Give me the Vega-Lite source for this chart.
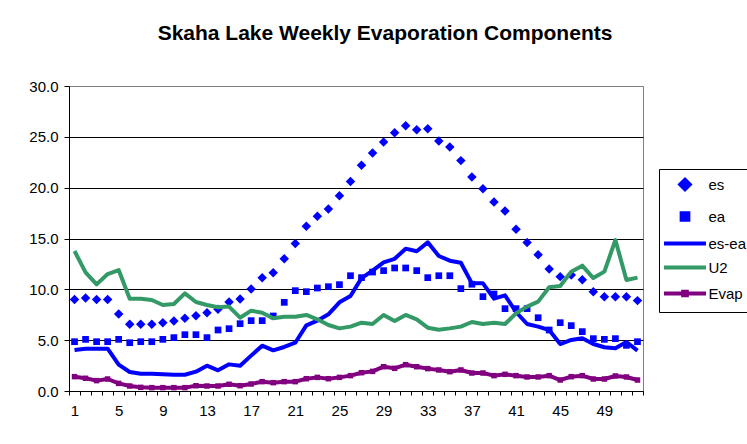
{
  "$schema": "https://vega.github.io/schema/vega-lite/v6.json",
  "autosize": {"type": "none"},
  "padding": {"left": 69, "top": 86, "right": 104, "bottom": 53},
  "width": 574,
  "height": 305,
  "background": "white",
  "title": {
    "text": "Skaha Lake Weekly Evaporation Components",
    "anchor": "middle",
    "frame": "group",
    "dx": 29,
    "offset": 35,
    "font": "Liberation Sans",
    "fontSize": 21,
    "fontWeight": "bold",
    "color": "black"
  },
  "config": {
    "view": {"stroke": "#808080", "strokeWidth": 1},
    "axis": {
      "labelFont": "Liberation Sans",
      "labelFontSize": 15,
      "labelColor": "black",
      "domainColor": "black",
      "tickColor": "black",
      "title": null
    }
  },
  "data": {
    "values": [
      {"week": 1, "es": 9.0, "ea": 4.85, "es-ea": 4.03, "U2": 13.77, "Evap": 1.41},
      {"week": 2, "es": 9.15, "ea": 5.08, "es-ea": 4.16, "U2": 11.67, "Evap": 1.25},
      {"week": 3, "es": 9.0, "ea": 4.85, "es-ea": 4.16, "U2": 10.49, "Evap": 1.02},
      {"week": 4, "es": 9.0, "ea": 4.85, "es-ea": 4.16, "U2": 11.5, "Evap": 1.18},
      {"week": 5, "es": 7.57, "ea": 5.08, "es-ea": 2.59, "U2": 11.9, "Evap": 0.75},
      {"week": 6, "es": 6.56, "ea": 4.75, "es-ea": 1.87, "U2": 9.08, "Evap": 0.49},
      {"week": 7, "es": 6.56, "ea": 4.85, "es-ea": 1.7, "U2": 9.08, "Evap": 0.36},
      {"week": 8, "es": 6.56, "ea": 4.85, "es-ea": 1.7, "U2": 8.95, "Evap": 0.33},
      {"week": 9, "es": 6.72, "ea": 5.08, "es-ea": 1.64, "U2": 8.46, "Evap": 0.33},
      {"week": 10, "es": 6.89, "ea": 5.25, "es-ea": 1.6, "U2": 8.56, "Evap": 0.33},
      {"week": 11, "es": 7.15, "ea": 5.54, "es-ea": 1.6, "U2": 9.6, "Evap": 0.33},
      {"week": 12, "es": 7.41, "ea": 5.54, "es-ea": 1.9, "U2": 8.75, "Evap": 0.52},
      {"week": 13, "es": 7.7, "ea": 5.25, "es-ea": 2.49, "U2": 8.46, "Evap": 0.49},
      {"week": 14, "es": 8.03, "ea": 6.0, "es-ea": 2.03, "U2": 8.23, "Evap": 0.49},
      {"week": 15, "es": 8.75, "ea": 6.13, "es-ea": 2.62, "U2": 8.3, "Evap": 0.66},
      {"week": 16, "es": 9.05, "ea": 6.62, "es-ea": 2.49, "U2": 7.21, "Evap": 0.52},
      {"week": 17, "es": 10.03, "ea": 6.92, "es-ea": 3.48, "U2": 7.9, "Evap": 0.69},
      {"week": 18, "es": 11.15, "ea": 6.92, "es-ea": 4.46, "U2": 7.7, "Evap": 0.92},
      {"week": 19, "es": 11.64, "ea": 7.38, "es-ea": 4.0, "U2": 7.15, "Evap": 0.82},
      {"week": 20, "es": 13.0, "ea": 8.72, "es-ea": 4.33, "U2": 7.31, "Evap": 0.92},
      {"week": 21, "es": 14.5, "ea": 9.87, "es-ea": 4.75, "U2": 7.31, "Evap": 0.92},
      {"week": 22, "es": 16.2, "ea": 9.77, "es-ea": 6.46, "U2": 7.48, "Evap": 1.21},
      {"week": 23, "es": 17.2, "ea": 10.13, "es-ea": 6.92, "U2": 7.05, "Evap": 1.34},
      {"week": 24, "es": 17.9, "ea": 10.26, "es-ea": 7.54, "U2": 6.49, "Evap": 1.21},
      {"week": 25, "es": 19.2, "ea": 10.46, "es-ea": 8.72, "U2": 6.16, "Evap": 1.34},
      {"week": 26, "es": 20.6, "ea": 11.34, "es-ea": 9.34, "U2": 6.33, "Evap": 1.51},
      {"week": 27, "es": 22.2, "ea": 11.15, "es-ea": 11.1, "U2": 6.72, "Evap": 1.8},
      {"week": 28, "es": 23.4, "ea": 11.7, "es-ea": 11.84, "U2": 6.59, "Evap": 1.93},
      {"week": 29, "es": 24.5, "ea": 11.84, "es-ea": 12.66, "U2": 7.48, "Evap": 2.39},
      {"week": 30, "es": 25.4, "ea": 12.1, "es-ea": 13.0, "U2": 6.89, "Evap": 2.23},
      {"week": 31, "es": 26.1, "ea": 12.1, "es-ea": 14.0, "U2": 7.48, "Evap": 2.59},
      {"week": 32, "es": 25.7, "ea": 11.84, "es-ea": 13.74, "U2": 7.05, "Evap": 2.39},
      {"week": 33, "es": 25.8, "ea": 11.15, "es-ea": 14.62, "U2": 6.23, "Evap": 2.2},
      {"week": 34, "es": 24.6, "ea": 11.34, "es-ea": 13.28, "U2": 6.03, "Evap": 2.07},
      {"week": 35, "es": 24.0, "ea": 11.34, "es-ea": 12.82, "U2": 6.16, "Evap": 1.9},
      {"week": 36, "es": 22.66, "ea": 10.07, "es-ea": 12.62, "U2": 6.33, "Evap": 2.07},
      {"week": 37, "es": 21.05, "ea": 10.5, "es-ea": 10.59, "U2": 6.79, "Evap": 1.77},
      {"week": 38, "es": 19.9, "ea": 9.28, "es-ea": 10.59, "U2": 6.59, "Evap": 1.77},
      {"week": 39, "es": 18.6, "ea": 9.54, "es-ea": 9.08, "U2": 6.72, "Evap": 1.51},
      {"week": 40, "es": 17.7, "ea": 8.1, "es-ea": 9.41, "U2": 6.59, "Evap": 1.64},
      {"week": 41, "es": 15.9, "ea": 8.1, "es-ea": 7.77, "U2": 7.64, "Evap": 1.51},
      {"week": 42, "es": 14.6, "ea": 8.1, "es-ea": 6.59, "U2": 8.3, "Evap": 1.38},
      {"week": 43, "es": 13.4, "ea": 7.21, "es-ea": 6.33, "U2": 8.79, "Evap": 1.38},
      {"week": 44, "es": 12.0, "ea": 6.0, "es-ea": 6.0, "U2": 10.2, "Evap": 1.51},
      {"week": 45, "es": 11.25, "ea": 6.72, "es-ea": 4.62, "U2": 10.33, "Evap": 1.08},
      {"week": 46, "es": 11.4, "ea": 6.43, "es-ea": 5.02, "U2": 11.74, "Evap": 1.41},
      {"week": 47, "es": 10.95, "ea": 5.84, "es-ea": 5.18, "U2": 12.33, "Evap": 1.51},
      {"week": 48, "es": 9.77, "ea": 5.15, "es-ea": 4.62, "U2": 11.11, "Evap": 1.18},
      {"week": 49, "es": 9.28, "ea": 5.08, "es-ea": 4.3, "U2": 11.74, "Evap": 1.18},
      {"week": 50, "es": 9.28, "ea": 5.15, "es-ea": 4.2, "U2": 14.85, "Evap": 1.48},
      {"week": 51, "es": 9.28, "ea": 4.49, "es-ea": 4.82, "U2": 10.92, "Evap": 1.38},
      {"week": 52, "es": 8.89, "ea": 4.85, "es-ea": 3.97, "U2": 11.15, "Evap": 1.08}
    ]
  },
  "transform": [
    {"fold": ["es", "ea", "es-ea", "U2", "Evap"], "as": ["series", "value"]}
  ],
  "encoding": {
    "x": {
      "field": "week",
      "type": "ordinal",
      "bandPosition": 0.5,
      "scale": {"type": "band", "paddingInner": 0, "paddingOuter": 0},
      "axis": {
        "labelAngle": 0,
        "tickBand": "extent",
        "tickSize": 4,
        "labelPadding": 8,
        "labelOverlap": false,
        "labelExpr": "(datum.value - 1) % 4 === 0 ? datum.label : ''",
        "grid": false
      }
    },
    "y": {
      "field": "value",
      "type": "quantitative",
      "scale": {"domain": [0, 30], "nice": false, "zero": true},
      "axis": {
        "values": [0, 5, 10, 15, 20, 25, 30],
        "format": ".1f",
        "tickSize": 5,
        "labelPadding": 6,
        "grid": true,
        "gridColor": {"condition": {"test": "datum.value === 30", "value": "#808080"}, "value": "black"},
        "gridOpacity": 1,
        "gridWidth": 1
      }
    }
  },
  "layer": [
    {
      "transform": [{"filter": {"field": "series", "oneOf": ["es", "ea"]}}],
      "mark": {"type": "point", "filled": true, "opacity": 1},
      "encoding": {
        "color": {
          "field": "series",
          "type": "nominal",
          "scale": {
            "domain": ["es", "ea", "es-ea", "U2", "Evap"],
            "range": ["#0000FF", "#0000FF", "#0000FF", "#339966", "#800080"]
          },
          "legend": {
            "orient": "none",
            "legendX": 590,
            "legendY": 83,
            "title": null,
            "strokeColor": "black",
            "fillColor": "white",
            "padding": 8,
            "labelFont": "Liberation Sans",
            "labelFontSize": 15,
            "labelColor": "black",
            "symbolOffset": 10.5,
            "labelOffset": 16,
            "rowPadding": 7,
            "symbolStrokeWidth": 4,
            "symbolOpacity": 1,
            "encode": {
              "symbols": {
                "update": {
                  "stroke": {"signal": "indexof(['es','ea'], datum.value) >= 0 ? 'transparent' : scale('color', datum.value)"},
                  "size": {"signal": "datum.value === 'es' ? 70 : datum.value === 'ea' ? 40 : 110"}
                }
              }
            }
          }
        },
        "shape": {
          "field": "series",
          "type": "nominal",
          "scale": {
            "domain": ["es", "ea", "es-ea", "U2", "Evap"],
            "range": ["diamond", "square", "M-4,0H4", "M-4,0H4", "M-4,0H4M-0.35,-0.35H0.35V0.35H-0.35Z"]
          }
        },
        "size": {
          "field": "series",
          "type": "nominal",
          "scale": {
            "type": "ordinal",
            "domain": ["es", "ea", "es-ea", "U2", "Evap"],
            "range": [90, 45, 110, 110, 110]
          }
        }
      }
    },
    {
      "transform": [{"filter": {"field": "series", "oneOf": ["es-ea", "U2", "Evap"]}}],
      "mark": {"type": "line", "strokeWidth": 4, "strokeJoin": "round"},
      "encoding": {
        "color": {"field": "series", "type": "nominal", "legend": null}
      }
    },
    {
      "transform": [{"filter": {"field": "series", "equal": "Evap"}}],
      "mark": {"type": "point", "filled": true, "opacity": 1, "shape": "square", "size": 30},
      "encoding": {
        "color": {"field": "series", "type": "nominal", "legend": null}
      }
    }
  ]
}
